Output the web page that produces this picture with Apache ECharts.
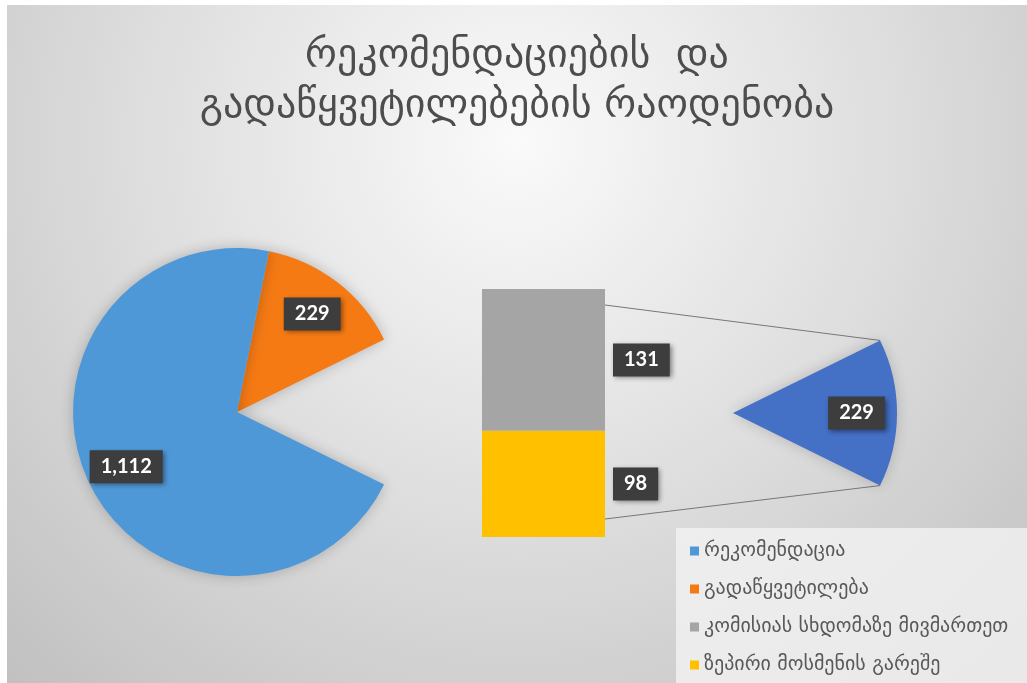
<!DOCTYPE html>
<html><head><meta charset="utf-8">
<script src="https://cdn.jsdelivr.net/npm/echarts@6/dist/echarts.min.js"></script>
<style>html,body{margin:0;padding:0;background:#fff;width:1027px;height:683px;overflow:hidden}
#c{position:absolute;left:7px;top:5px;width:1020px;height:678px}</style></head>
<body><div id="c"></div>
<script>
const titleLines = ['რეკომენდაციების  და', 'გადაწყვეტილებების რაოდენობა'];
const pieNames = ['რეკომენდაცია', 'გადაწყვეტილება'];
const pieValues = [1112, 229];
const barNames = ['კომისიას სხდომაზე მივმართეთ', 'ზეპირი მოსმენის გარეშე'];
const barValues = [131, 98];
const otherName = 'სხვა';

const colors = {rec: '#4F98D8', dec: '#F57A14', com: '#A5A5A5', oral: '#FFC000', other: '#4470C6'};
const otherValue = barValues[0] + barValues[1];
const total = pieValues[0] + pieValues[1] + otherValue;
const otherDeg = otherValue / total * 360;
const decDeg = pieValues[1] / total * 360;
const R = 164;
const pieC = [230, 407], wedgeC = [726, 408];
const grid = {left: 475, top: 284, width: 123, height: 248};
const none = {color: 'rgba(0,0,0,0)'};
const labelBox = {show: true, position: 'inside', color: '#fff', fontFamily: 'Lato', fontWeight: 'bold', fontSize: 20,
  backgroundColor: '#3d3d3d', padding: [7, 11, 6, 11], shadowColor: 'rgba(0,0,0,0.45)', shadowBlur: 5,
  shadowOffsetX: 2, shadowOffsetY: 2, formatter: p => p.value.toLocaleString('en-US')};

const mainData = [
  {name: pieNames[1], value: pieValues[1], itemStyle: {color: colors.dec}},
  {name: otherName, value: otherValue, itemStyle: none},
  {name: pieNames[0], value: pieValues[0], itemStyle: {color: colors.rec}}
];
const wedgeData = [
  {name: otherName, value: otherValue, itemStyle: {color: colors.other}},
  {name: 'rest', value: total - otherValue, itemStyle: none}
];
function labelData(d) {
  return d.map((x, i) => ({name: 'lbl' + i, value: x.value, itemStyle: none,
    label: {show: x.itemStyle !== none}}));
}
const pieBase = {type: 'pie', clockwise: true, silent: true, avoidLabelOverlap: false,
  labelLine: {show: false}, emphasis: {disabled: true}, animation: false};

const chart = echarts.init(document.getElementById('c'), null, {renderer: 'canvas'});
const option = {
  animation: false,
  backgroundColor: {type: 'radial', x: 0.5, y: 0.2, r: 1.1,
    colorStops: [{offset: 0, color: '#fafafa'}, {offset: 0.5, color: '#dedede'}, {offset: 1, color: '#c0c0c0'}]},
  title: {text: titleLines.join('\n'), left: 'center', top: 22,
    textStyle: {fontFamily: 'DejaVu Sans', fontSize: 40, lineHeight: 50, color: '#4d4d4d', fontWeight: 'normal'}},
  legend: {orient: 'vertical', left: 669, top: 523, height: 300, selectedMode: false,
    data: [pieNames[0], pieNames[1], barNames[0], barNames[1]],
    icon: 'rect', itemWidth: 9, itemHeight: 9, itemGap: 18,
    textStyle: {fontFamily: 'DejaVu Sans', fontSize: 20, color: '#595959'},
    backgroundColor: 'rgba(243,243,243,0.8)', padding: [13, 40, 40, 14]},
  grid: grid,
  xAxis: {type: 'category', data: ['x'], show: false},
  yAxis: {type: 'value', min: 0, max: otherValue, show: false},
  series: [
    Object.assign({}, pieBase, {name: 'main', center: pieC, radius: [0, R], startAngle: otherDeg / 2 + decDeg,
      label: {show: false}, data: mainData,
      itemStyle: {shadowBlur: 14, shadowColor: 'rgba(0,0,0,0.22)'}}),
    Object.assign({}, pieBase, {name: 'wedge', center: wedgeC, radius: [0, R], startAngle: otherDeg / 2,
      label: {show: false}, data: wedgeData,
      itemStyle: {shadowBlur: 14, shadowColor: 'rgba(0,0,0,0.18)'}}),
    Object.assign({}, pieBase, {name: 'mainLbl', center: pieC, radius: [R * 0.47, R], startAngle: otherDeg / 2 + decDeg,
      label: labelBox, data: labelData(mainData)}),
    Object.assign({}, pieBase, {name: 'wedgeLbl', center: wedgeC, radius: [R * 0.47, R], startAngle: otherDeg / 2,
      label: labelBox, data: labelData(wedgeData)}),
    {type: 'bar', name: barNames[1], stack: 's', barWidth: '100%', data: [barValues[1]], silent: true,
      itemStyle: {color: colors.oral},
      label: Object.assign({}, labelBox, {position: 'right', distance: 8})},
    {type: 'bar', name: barNames[0], stack: 's', barWidth: '100%', data: [barValues[0]], silent: true,
      itemStyle: {color: colors.com},
      label: Object.assign({}, labelBox, {position: 'right', distance: 8})}
  ]
};
chart.setOption(option);

const barRight = grid.left + grid.width;
const barTop = chart.convertToPixel({gridIndex: 0}, [0, otherValue])[1];
const barBottom = chart.convertToPixel({gridIndex: 0}, [0, 0])[1];
const half = otherDeg / 2 * Math.PI / 180;
const endTop = [wedgeC[0] + R * Math.cos(half), wedgeC[1] - R * Math.sin(half)];
const endBot = [wedgeC[0] + R * Math.cos(half), wedgeC[1] + R * Math.sin(half)];
const lineStyle = {stroke: '#777', lineWidth: 1};
chart.setOption({graphic: [
  {type: 'line', shape: {x1: barRight, y1: barTop + 16, x2: endTop[0], y2: endTop[1]}, style: lineStyle, z: 1},
  {type: 'line', shape: {x1: barRight, y1: barBottom - 18, x2: endBot[0], y2: endBot[1]}, style: lineStyle, z: 1}
]});
</script></body></html>
